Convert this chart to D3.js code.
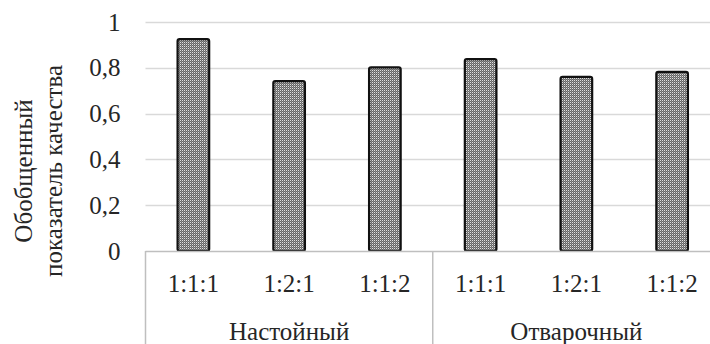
<!DOCTYPE html>
<html>
<head>
<meta charset="utf-8">
<script src="https://cdn.jsdelivr.net/npm/d3@7"></script>
<style>
  body { margin: 0; background: #fff; }
</style>
</head>
<body>
<div id="chart"></div>
<script>
// Data
const groups = ["Настойный", "Отварочный"];
const ratios = ["1:1:1", "1:2:1", "1:1:2"];
const values = [0.925, 0.742, 0.802, 0.838, 0.76, 0.782];
const yTicks = [0, 0.2, 0.4, 0.6, 0.8, 1];
const yTitle = ["Обобщенный", "показатель качества"];

const W = 710, H = 344;
const margin = { top: 22, left: 145.5, bottom: 93 };
const plotRight = 720;
const zeroY = H - margin.bottom; // 251
const FONT = "Liberation Serif, Times New Roman, serif";
const FS = 25;
const TXT = "#262626";

const cats = groups.flatMap((g, gi) => ratios.map((r, ri) => ({ group: g, ratio: r, key: gi + "-" + ri })));
cats.forEach((c, i) => c.value = values[i]);

const svg = d3.select("#chart").append("svg")
  .attr("width", W).attr("height", H)
  .attr("font-family", FONT)
  .attr("font-size", FS);

// dotted fill like the Excel pattern
const defs = svg.append("defs");
const pat = defs.append("pattern")
  .attr("id", "dots")
  .attr("patternUnits", "userSpaceOnUse")
  .attr("width", 2).attr("height", 2);
pat.append("rect").attr("width", 2).attr("height", 2).attr("fill", "#666");
pat.append("rect").attr("x", 0).attr("y", 0).attr("width", 1).attr("height", 1).attr("fill", "#e0e0e0");
pat.append("rect").attr("x", 1).attr("y", 1).attr("width", 1).attr("height", 1).attr("fill", "#8a8a8a");

// Scales
const x = d3.scaleBand()
  .domain(cats.map(d => d.key))
  .range([margin.left, plotRight])
  .paddingInner(0.67).paddingOuter(0.335);
const xStep = (plotRight - margin.left) / cats.length;

const y = d3.scaleLinear().domain([0, 1]).range([zeroY, margin.top]);

// Gridlines
svg.append("g")
  .selectAll("line")
  .data(yTicks.filter(t => t > 0))
  .join("line")
  .attr("x1", margin.left).attr("x2", W)
  .attr("y1", d => Math.round(y(d)) + 0.5).attr("y2", d => Math.round(y(d)) + 0.5)
  .attr("stroke", "#d9d9d9").attr("stroke-width", 1.5);

// Y axis labels
const yAxis = svg.append("g")
  .attr("transform", `translate(${margin.left},0)`)
  .call(d3.axisLeft(y).tickValues(yTicks).tickSize(0).tickPadding(25)
    .tickFormat(d => String(d).replace(".", ",")));
yAxis.select(".domain").remove();
yAxis.attr("font-family", FONT).attr("font-size", FS);
yAxis.selectAll("text").attr("fill", TXT);

// Y title
svg.append("text")
  .attr("transform", "translate(32,171) rotate(-90)")
  .attr("text-anchor", "middle")
  .attr("fill", TXT)
  .selectAll("tspan")
  .data(yTitle)
  .join("tspan")
  .attr("x", 0)
  .attr("dy", (d, i) => i === 0 ? 0 : 30)
  .text(d => d);

// Bars
svg.append("g")
  .selectAll("rect")
  .data(cats)
  .join("rect")
  .attr("x", d => x(d.key))
  .attr("width", x.bandwidth())
  .attr("y", d => y(d.value))
  .attr("height", d => zeroY - y(d.value))
  .attr("rx", 2)
  .attr("fill", "url(#dots)")
  .attr("stroke", "#111")
  .attr("stroke-width", 2.2);

// Category axis lines
svg.append("line")
  .attr("x1", margin.left).attr("x2", W)
  .attr("y1", zeroY + 0.5).attr("y2", zeroY + 0.5)
  .attr("stroke", "#bfbfbf").attr("stroke-width", 1.5);
[0, 3].forEach(i => {
  const xx = margin.left + i * xStep;
  svg.append("line")
    .attr("x1", xx).attr("x2", xx)
    .attr("y1", zeroY).attr("y2", H)
    .attr("stroke", "#bfbfbf").attr("stroke-width", 1.5);
});

// Ratio labels
svg.append("g")
  .selectAll("text")
  .data(cats)
  .join("text")
  .attr("x", d => x(d.key) + x.bandwidth() / 2)
  .attr("y", 292)
  .attr("text-anchor", "middle")
  .attr("fill", TXT)
  .text(d => d.ratio);

// Group labels
svg.append("g")
  .selectAll("text")
  .data(groups)
  .join("text")
  .attr("x", (d, i) => margin.left + (i * 3 + 1.5) * xStep)
  .attr("y", 340)
  .attr("text-anchor", "middle")
  .attr("fill", TXT)
  .text(d => d);
</script>
</body>
</html>
